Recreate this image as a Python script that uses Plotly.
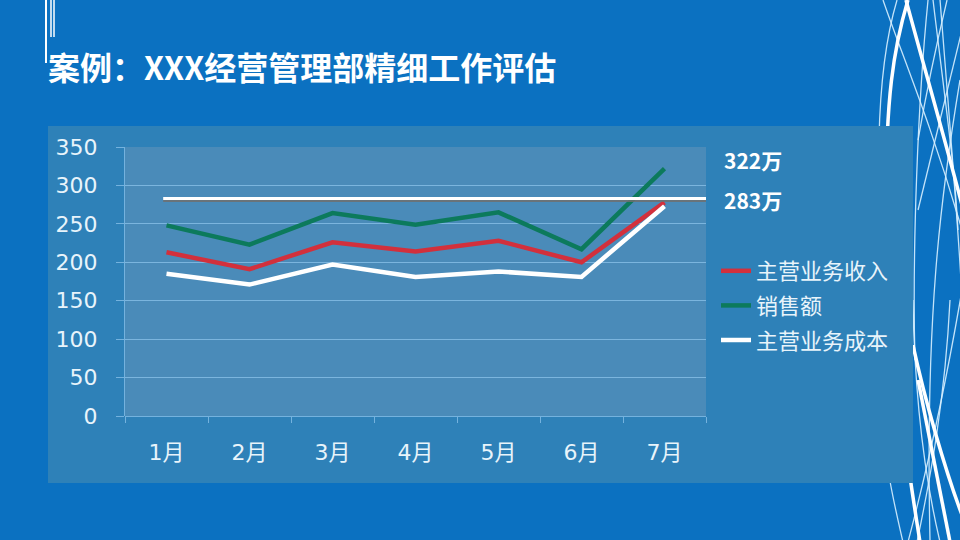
import plotly.graph_objects as go

# data
months = ["1月", "2月", "3月", "4月", "5月", "6月", "7月"]
main_income = [213, 191, 226, 214, 228, 200, 278]
sales = [248, 223, 264, 249, 265, 217, 322]
main_cost = [185, 171, 197, 181, 188, 181, 273]
target_line = 283
label_sales = "322万"
label_target = "283万"

W, H = 960, 540
BG = "#0B71C1"
PANEL = "#2E81B8"
PLOT = "#4A8BB9"
GRID = "rgba(140,195,235,0.75)"
TXT = "#E8F4FB"


def px(x, y):
    # pixel position -> paper coords
    return f"{x / W:.4f},{1 - y / H:.4f}"


def path(pts):
    s = "M " + px(*pts[0])
    for i in range(1, len(pts), 3):
        s += " C " + " ".join(px(*p) for p in pts[i:i + 3])
    return s


fig = go.Figure()
fig.add_trace(go.Scatter(x=months, y=main_income, mode="lines", name="主营业务收入",
                         line=dict(color="#D2303C", width=4.5), legendgroup="a"))
fig.add_trace(go.Scatter(x=months, y=sales, mode="lines", name="销售额",
                         line=dict(color="#0C7A5C", width=4.5), legendgroup="b"))
fig.add_trace(go.Scatter(x=months, y=main_cost, mode="lines", name="主营业务成本",
                         line=dict(color="#FFFFFF", width=4.5), legendgroup="c"))

shapes = []
# decorative curves on the right edge (drawn before the panel)
thick = [
    [(908, 0), (893, 50), (886, 100), (886, 200)],
    [(906, 0), (925, 70), (945, 140), (962, 205)],
    [(913, 345), (925, 400), (945, 470), (962, 515)],
    [(918, 380), (930, 440), (942, 500), (950, 542)],
    [(905, 440), (910, 480), (915, 510), (920, 542)],
]
thin = [
    [(897, 0), (885, 40), (880, 90), (879, 140)],
    [(883, 0), (900, 50), (930, 120), (962, 230)],
    [(928, 0), (918, 100), (912, 250), (915, 360)],
    [(933, 0), (945, 100), (955, 170), (958, 230)],
    [(947, 0), (935, 50), (925, 100), (918, 140)],
    [(962, 30), (945, 100), (930, 160), (918, 210)],
    [(913, 300), (915, 420), (930, 500), (940, 542)],
    [(950, 300), (945, 400), (930, 480), (917, 542)],
    [(888, 470), (893, 500), (898, 520), (903, 542)],
    [(962, 290), (950, 360), (935, 440), (908, 542)],
    [(940, 0), (952, 150), (960, 250), (962, 300)],
    [(960, 80), (940, 200), (925, 320), (930, 542)],
]
for pts in thin:
    shapes.append(dict(type="path", xref="paper", yref="paper", path=path(pts),
                       line=dict(color="rgba(215,240,255,0.9)", width=1.3), layer="below"))
for pts in thick:
    shapes.append(dict(type="path", xref="paper", yref="paper", path=path(pts),
                       line=dict(color="white", width=3.5), layer="below"))

# top-left thin vertical lines
for x, y1, w in [(46, 63, 2), (51, 37, 1.5), (54, 37, 1.5)]:
    shapes.append(dict(type="line", xref="paper", yref="paper",
                       x0=x / W, x1=x / W, y0=1, y1=1 - y1 / H,
                       line=dict(color="white", width=w), layer="below"))

# chart panel and the lighter plot area on top of it
shapes.append(dict(type="rect", xref="paper", yref="paper",
                   x0=48 / W, x1=913 / W, y0=1 - 483 / H, y1=1 - 126 / H,
                   fillcolor=PANEL, line=dict(width=0), layer="below"))
shapes.append(dict(type="rect", xref="x domain", yref="y domain",
                   x0=0, x1=1, y0=0, y1=1,
                   fillcolor=PLOT, line=dict(width=0), layer="below"))

# target line with shadow
shapes.append(dict(type="line", xref="x", yref="y", x0=-0.04, x1=6.55,
                   y0=target_line - 2.5, y1=target_line - 2.5,
                   line=dict(color="rgba(110,110,110,0.85)", width=3)))
shapes.append(dict(type="line", xref="x", yref="y", x0=-0.04, x1=6.55,
                   y0=target_line, y1=target_line,
                   line=dict(color="white", width=3)))

annotations = [
    dict(text="<b>案例：XXX经营管理部精细工作评估</b>", xref="paper", yref="paper",
         x=46 / W, y=1 - 66 / H, xanchor="left", yanchor="middle", showarrow=False,
         font=dict(family="Noto Sans CJK SC", size=32, color="white")),
    dict(text="<b>" + label_sales + "</b>", xref="paper", yref="paper",
         x=722 / W, y=1 - 160 / H, xanchor="left", yanchor="middle", showarrow=False,
         font=dict(family="Noto Sans CJK SC", size=21, color="white")),
    dict(text="<b>" + label_target + "</b>", xref="paper", yref="y",
         x=722 / W, y=target_line - 2, xanchor="left", yanchor="middle", showarrow=False,
         font=dict(family="Noto Sans CJK SC", size=21, color="white")),
]

fig.update_layout(
    width=W, height=H, autosize=False,
    margin=dict(l=0, r=0, t=0, b=0),
    paper_bgcolor=BG, plot_bgcolor=PLOT,
    shapes=shapes, annotations=annotations,
    showlegend=True,
    legend=dict(x=716 / W, y=1 - 250 / H, xanchor="left", yanchor="top",
                bgcolor="rgba(0,0,0,0)", itemwidth=30, tracegroupgap=3,
                font=dict(family="Noto Sans CJK SC", size=22, color=TXT)),
    xaxis=dict(domain=[125 / W, 706 / W], range=[-0.5, len(months) - 0.5],
               showgrid=False, tickson="boundaries",
               ticks="outside", ticklen=6, tickcolor=GRID, showline=False,
               automargin=False,
               tickfont=dict(family="DejaVu Sans, Noto Sans CJK SC", size=22, color=TXT),
               ticklabelstandoff=21),
    yaxis=dict(domain=[1 - 416 / H, 1 - 147 / H], range=[0, 350], dtick=50,
               gridcolor=GRID, gridwidth=1, zeroline=True, zerolinecolor=GRID,
               zerolinewidth=1, showline=True, linecolor=GRID, linewidth=1,
               ticks="outside", ticklen=8, tickcolor=GRID, ticklabelstandoff=14,
               automargin=False,
               tickfont=dict(family="DejaVu Sans", size=22, color=TXT)),
)

fig.write_html("out.html", config={"displayModeBar": False},
               post_script="document.body.style.margin='0';")
